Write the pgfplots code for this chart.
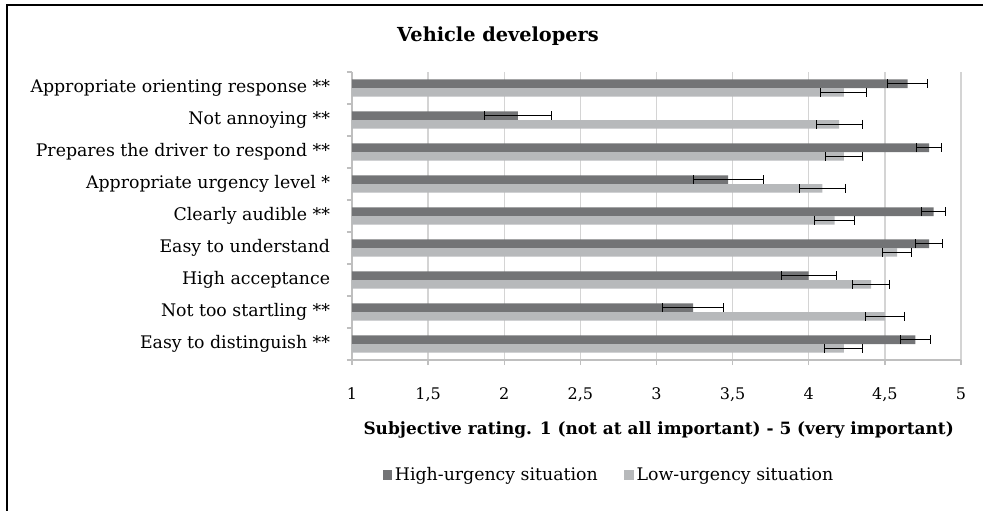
\documentclass[border=0pt]{standalone}
\usepackage{fontspec}
\setmainfont{DejaVu Serif}
\usepackage{pgfplots}
\pgfplotsset{compat=1.18}
\definecolor{darkbar}{HTML}{737476}
\definecolor{lightbar}{HTML}{B7B9BB}
\definecolor{gridc}{HTML}{D4D4D4}
\definecolor{axisc}{HTML}{BFBFBF}

\begin{document}
\begin{tikzpicture}
\useasboundingbox (0,0) rectangle (737.25pt,-383.25pt);
\draw[black, line width=1.5pt] (4.9pt,-390pt) -- (4.9pt,-3.4pt) -- (745pt,-3.4pt);
\node[font=\fontsize{14.5}{17}\selectfont\bfseries, anchor=base] at (373.5pt,-31pt) {Vehicle developers};
\node[font=\fontsize{12.7}{15}\selectfont\bfseries, anchor=base] at (494pt,-326pt)
  {Subjective rating. 1 (not at all important) - 5 (very important)};
\begin{axis}[
  at={(264pt,-270pt)}, anchor=south west,
  width=456.75pt, height=216pt, scale only axis,
  xmin=1, xmax=5, ymin=0.5, ymax=9.5,
  xbar, bar width=6.4pt,
  axis lines*=left,
  axis line style={axisc, line width=1.1pt},
  xtick={1,1.5,2,2.5,3,3.5,4,4.5,5},
  ytick={1,2,3,4,5,6,7,8,9},
  yticklabels={Easy to distinguish **, Not too startling **, High acceptance,
    Easy to understand, Clearly audible **, Appropriate urgency level *,
    Prepares the driver to respond **, Not annoying **, Appropriate orienting response **},
  minor ytick={0.5,1.5,2.5,3.5,4.5,5.5,6.5,7.5,8.5,9.5},
  major y tick style={draw=none},
  tick style={axisc, line width=1.1pt},
  minor tick style={axisc, line width=1.1pt},
  tick align=outside, major tick length=3.75pt, minor tick length=3.75pt,
  xmajorgrids, major grid style={gridc, line width=1.1pt},
  xticklabel style={font=\fontsize{12}{14}\selectfont, anchor=base, yshift=-25.5pt,
    /pgf/number format/use comma, /pgf/number format/assume math mode=true},
  yticklabel style={font=\fontsize{13}{15}\selectfont, anchor=east, inner sep=0pt, xshift=-12.5pt},
  legend columns=2,
  legend style={at={(0.05,-0.40)}, anchor=west, draw=none, fill=none, inner sep=0pt,
    font=\fontsize{13}{15}\selectfont, /tikz/every even column/.append style={column sep=18pt}},
]
\addplot[fill=darkbar, draw=none, bar shift=3.2pt,
  legend image code/.code={\fill[darkbar] (0pt,-3.6pt) rectangle (7.2pt,3.6pt);},
  error bars/.cd, x dir=both, x explicit,
  error bar style={black, line width=0.75pt},
  error mark=|,
  error mark options={black, line width=0.75pt, mark size=3.25pt}]
  coordinates {
  (4.70,1) +- (0.10,0)
  (3.24,2) +- (0.20,0)
  (4.00,3) +- (0.18,0)
  (4.79,4) +- (0.09,0)
  (4.82,5) +- (0.08,0)
  (3.47,6) +- (0.23,0)
  (4.79,7) +- (0.08,0)
  (2.09,8) +- (0.22,0)
  (4.65,9) +- (0.13,0)
};
\addlegendentry{High-urgency situation}
\addplot[fill=lightbar, draw=none, bar shift=-3.2pt,
  legend image code/.code={\fill[lightbar] (0pt,-3.6pt) rectangle (7.2pt,3.6pt);},
  error bars/.cd, x dir=both, x explicit,
  error bar style={black, line width=0.75pt},
  error mark=|,
  error mark options={black, line width=0.75pt, mark size=3.25pt}]
  coordinates {
  (4.23,1) +- (0.125,0)
  (4.50,2) +- (0.13,0)
  (4.41,3) +- (0.12,0)
  (4.58,4) +- (0.095,0)
  (4.17,5) +- (0.13,0)
  (4.09,6) +- (0.15,0)
  (4.23,7) +- (0.12,0)
  (4.20,8) +- (0.15,0)
  (4.23,9) +- (0.15,0)
};
\addlegendentry{Low-urgency situation}
\end{axis}
\end{tikzpicture}
\end{document}
